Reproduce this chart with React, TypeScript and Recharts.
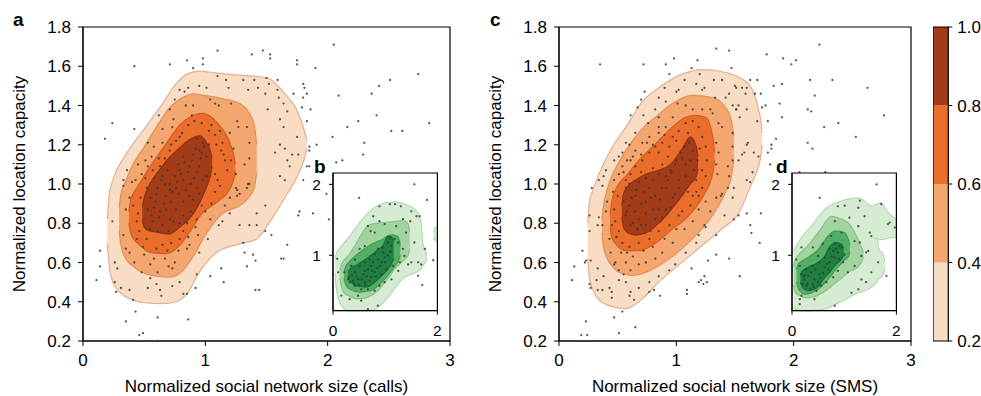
import React from "react";
import { ComposedChart, Area, Scatter, XAxis, YAxis, ReferenceArea, CartesianGrid } from "recharts";

type Row = [number, number, number];

const MAIN_X_TICKS = [0, 1, 2, 3];
const MAIN_Y_TICKS = [0.2, 0.4, 0.6, 0.8, 1.0, 1.2, 1.4, 1.6, 1.8];
const INSET_X_TICKS = [0, 2];
const INSET_Y_TICKS = [1, 2];
const LEVELS = [0.2, 0.4, 0.6, 0.8, 1.0];

const ORANGES = ["#f9dcc4", "#f3a66e", "#eb6d2b", "#a33b17"];
const ORANGE_EDGES = ["#dfb095", "#e38f58", "#d55d20", "#8c3214"];
const GREENS = ["#d5ecd2", "#a2d49f", "#52ae65", "#1d7f40"];
const GREEN_EDGES = ["#b1d8ad", "#84c283", "#3f9a54", "#166a34"];

// density contours: [x, lower y, upper y]
const CALLS_L1: Row[] = [[0.2, 0.7, 0.82], [0.215, 0.58, 0.95], [0.25, 0.49, 1.03], [0.35, 0.425, 1.15], [0.5, 0.395, 1.28], [0.65, 0.39, 1.41], [0.76, 0.4, 1.51], [0.85, 0.44, 1.56], [0.95, 0.55, 1.575], [1.1, 0.655, 1.565], [1.28, 0.695, 1.555], [1.42, 0.72, 1.548], [1.51, 0.79, 1.54], [1.65, 0.93, 1.46], [1.76, 1.05, 1.36], [1.81, 1.13, 1.27], [1.83, 1.18, 1.22]];
const CALLS_L2: Row[] = [[0.295, 0.76, 0.88], [0.31, 0.69, 0.95], [0.34, 0.63, 1.0], [0.4, 0.585, 1.09], [0.5, 0.545, 1.19], [0.6, 0.53, 1.29], [0.71, 0.525, 1.39], [0.8, 0.55, 1.435], [0.9, 0.63, 1.46], [1.0, 0.74, 1.45], [1.14, 0.85, 1.435], [1.28, 0.89, 1.41], [1.36, 0.935, 1.36], [1.4, 0.98, 1.3], [1.42, 1.06, 1.2]];
const CALLS_L3: Row[] = [[0.375, 0.8, 0.86], [0.39, 0.75, 0.92], [0.42, 0.715, 0.96], [0.46, 0.69, 1.0], [0.55, 0.652, 1.09], [0.68, 0.645, 1.205], [0.79, 0.687, 1.3], [0.87, 0.755, 1.34], [0.98, 0.855, 1.36], [1.1, 0.91, 1.31], [1.2, 0.975, 1.21], [1.235, 1.03, 1.14], [1.245, 1.07, 1.1]];
const CALLS_L4: Row[] = [[0.485, 0.82, 0.88], [0.5, 0.78, 0.93], [0.53, 0.765, 0.98], [0.6, 0.755, 1.05], [0.7, 0.745, 1.13], [0.8, 0.785, 1.19], [0.87, 0.823, 1.225], [0.95, 0.9, 1.245], [1.0, 0.97, 1.22], [1.04, 1.04, 1.17], [1.055, 1.09, 1.13]];

const SMS_L1: Row[] = [[0.245, 0.62, 0.8], [0.26, 0.52, 0.91], [0.29, 0.46, 0.97], [0.34, 0.41, 1.05], [0.455, 0.375, 1.19], [0.57, 0.365, 1.29], [0.71, 0.415, 1.42], [0.85, 0.5, 1.49], [1.05, 0.602, 1.56], [1.22, 0.687, 1.583], [1.39, 0.772, 1.572], [1.53, 0.85, 1.545], [1.64, 1.0, 1.49], [1.7, 1.09, 1.38], [1.725, 1.16, 1.3], [1.73, 1.2, 1.26]];
const SMS_L2: Row[] = [[0.365, 0.75, 0.82], [0.38, 0.68, 0.89], [0.41, 0.62, 0.97], [0.45, 0.585, 1.04], [0.51, 0.55, 1.11], [0.625, 0.534, 1.22], [0.74, 0.55, 1.3], [0.824, 0.575, 1.341], [0.966, 0.63, 1.41], [1.136, 0.72, 1.452], [1.307, 0.84, 1.44], [1.42, 0.96, 1.39], [1.47, 1.04, 1.32], [1.49, 1.12, 1.24]];
const SMS_L3: Row[] = [[0.435, 0.78, 0.84], [0.45, 0.73, 0.91], [0.49, 0.69, 0.98], [0.57, 0.66, 1.04], [0.68, 0.66, 1.12], [0.824, 0.7, 1.205], [0.966, 0.77, 1.29], [1.08, 0.823, 1.34], [1.165, 0.88, 1.35], [1.25, 0.96, 1.34], [1.3, 1.03, 1.27], [1.32, 1.09, 1.2], [1.325, 1.12, 1.16]];
const SMS_L4: Row[] = [[0.535, 0.83, 0.89], [0.55, 0.78, 0.95], [0.59, 0.75, 0.99], [0.653, 0.74, 1.02], [0.74, 0.75, 1.05], [0.85, 0.8, 1.07], [0.95, 0.865, 1.1], [1.05, 0.942, 1.18], [1.12, 1.0, 1.24], [1.17, 1.04, 1.19], [1.185, 1.08, 1.14]];

const B_L1: Row[] = [[0.04, 0.75, 0.95], [0.06, 0.55, 1.02], [0.15, 0.3, 1.12], [0.3, 0.22, 1.25], [0.5, 0.22, 1.45], [0.7, 0.22, 1.62], [0.85, 0.26, 1.7], [1.0, 0.36, 1.74], [1.2, 0.55, 1.755], [1.35, 0.68, 1.73], [1.5, 0.73, 1.68], [1.62, 0.77, 1.6], [1.69, 0.81, 1.45], [1.72, 0.85, 1.18], [1.77, 0.9, 1.06], [1.8, 0.96, 1.0]];
const B_SPOT: Row[] = [[1.93, 1.26, 1.32], [1.95, 1.21, 1.38], [2.0, 1.2, 1.4]];
const B_L2: Row[] = [[0.13, 0.68, 0.78], [0.16, 0.56, 0.87], [0.2, 0.48, 0.92], [0.32, 0.42, 1.02], [0.5, 0.385, 1.24], [0.67, 0.41, 1.42], [0.83, 0.48, 1.45], [1.02, 0.64, 1.465], [1.21, 0.83, 1.48], [1.34, 0.92, 1.49], [1.44, 1.0, 1.44], [1.47, 1.08, 1.34]];
const B_L3: Row[] = [[0.21, 0.68, 0.76], [0.24, 0.59, 0.84], [0.3, 0.53, 0.9], [0.51, 0.48, 1.04], [0.72, 0.5, 1.15], [0.96, 0.64, 1.23], [1.1, 0.76, 1.29], [1.22, 0.88, 1.27], [1.27, 0.95, 1.22], [1.29, 1.0, 1.14]];
const B_L4: Row[] = [[0.29, 0.69, 0.75], [0.32, 0.64, 0.8], [0.45, 0.57, 0.86], [0.64, 0.55, 0.95], [0.83, 0.64, 1.06], [0.96, 0.73, 1.14], [1.05, 0.8, 1.27], [1.12, 0.88, 1.26], [1.16, 0.95, 1.2]];

const D_L1: Row[] = [[0.03, 0.25, 1.05], [0.18, 0.22, 1.25], [0.37, 0.22, 1.41], [0.63, 0.24, 1.65], [0.95, 0.35, 1.765], [1.27, 0.47, 1.81], [1.46, 0.52, 1.72], [1.6, 0.6, 1.65], [1.66, 0.66, 1.1], [1.75, 0.74, 1.0], [1.78, 0.8, 0.9]];
const D_EAR: Row[] = [[1.55, 1.25, 1.7], [1.71, 1.22, 1.74], [1.84, 1.24, 1.6], [2.0, 1.25, 1.51]];
const D_L2: Row[] = [[0.03, 0.58, 0.84], [0.05, 0.5, 0.91], [0.12, 0.44, 1.0], [0.31, 0.4, 1.14], [0.56, 0.46, 1.38], [0.75, 0.56, 1.55], [0.95, 0.68, 1.51], [1.1, 0.77, 1.44], [1.27, 0.84, 1.22], [1.34, 0.92, 1.1], [1.37, 0.97, 1.04]];
const D_L3: Row[] = [[0.09, 0.62, 0.8], [0.12, 0.53, 0.88], [0.24, 0.45, 0.94], [0.5, 0.52, 1.08], [0.69, 0.66, 1.27], [0.82, 0.78, 1.34], [1.0, 0.93, 1.32], [1.08, 0.98, 1.22], [1.11, 1.04, 1.14]];
const D_L4: Row[] = [[0.16, 0.62, 0.72], [0.19, 0.56, 0.77], [0.31, 0.5, 0.83], [0.5, 0.56, 0.9], [0.62, 0.68, 0.98], [0.72, 0.76, 1.12], [0.85, 0.88, 1.18], [0.95, 0.95, 1.155], [0.99, 1.0, 1.1]];

// individual users: [x, y]
const DOTS_CALLS = [
  [1.1, 1.68], [1.38, 1.66], [1.47, 1.68], [0.42, 1.6], [0.71, 1.61], [0.85, 1.63], [0.98, 1.64], [0.98, 1.61], [0.9, 1.59], [0.24, 1.31], [0.18, 1.23], [0.42, 1.28],
  [1.1, 1.55], [1.17, 1.53], [1.19, 1.49], [1.31, 1.53], [1.4, 1.53], [1.35, 1.48], [1.43, 1.49], [1.5, 1.54], [0.95, 1.5], [1.01, 1.49], [0.79, 1.48], [0.83, 1.47], [0.86, 1.49], [0.75, 1.43], [0.71, 1.38], [0.62, 1.35], [0.74, 1.33], [0.65, 1.28], [0.53, 1.21], [0.51, 1.12], [0.45, 1.1], [0.36, 1.07], [0.4, 1.01], [0.33, 1.02],
  [0.84, 1.4], [0.9, 1.4], [0.89, 1.35], [1.04, 1.43], [1.08, 1.41], [1.11, 1.4], [1.21, 1.41], [1.26, 1.32], [1.27, 1.29], [1.34, 1.29], [1.36, 1.21], [1.36, 1.13], [1.32, 1.1], [1.35, 1.0], [0.73, 1.29], [0.65, 1.21], [0.58, 1.19], [0.56, 1.14], [0.53, 1.09], [0.51, 1.03], [0.43, 1.02], [0.48, 1.05], [1.2, 1.26], [1.23, 1.18], [1.21, 1.12], [1.25, 1.05],
  [0.91, 1.32], [0.97, 1.31], [1.05, 1.3], [1.12, 1.27], [1.08, 1.25], [1.14, 1.21], [1.13, 1.17], [1.16, 1.12], [1.18, 1.07], [0.81, 1.26], [0.76, 1.22], [0.71, 1.17], [0.67, 1.13], [0.63, 1.09], [0.65, 1.04], [0.58, 1.03], [1.08, 1.05],
  [0.93, 1.23], [0.98, 1.21], [0.95, 1.17], [1.01, 1.14], [0.9, 1.15], [0.83, 1.11], [0.79, 1.07], [0.87, 1.09], [0.95, 1.09], [1.01, 1.04], [0.91, 1.03], [0.82, 1.02], [0.75, 1.04], [0.71, 1.0], [0.67, 1.0], [0.82, 1.14], [0.78, 1.1],
  [0.56, 0.84], [0.6, 0.95], [0.64, 1.02], [0.69, 1.07], [0.73, 0.96], [0.78, 0.95], [0.8, 1.05], [0.86, 1.06], [0.89, 1.12], [0.92, 1.18], [0.96, 1.13], [0.99, 1.19], [0.7, 0.76], [0.74, 0.81], [0.79, 0.8], [0.85, 0.8], [0.88, 0.86], [0.9, 0.92], [0.95, 0.95], [0.98, 1.02], [0.62, 0.83], [0.58, 0.88], [0.66, 0.9], [0.71, 0.97], [0.77, 1.01], [0.84, 0.97], [0.88, 1.0], [0.93, 1.06], [0.97, 1.16], [1.03, 1.2],
  [0.45, 0.85], [0.47, 0.93], [0.44, 0.72], [0.5, 0.64], [0.58, 0.62], [0.69, 0.66], [0.78, 0.66], [0.86, 0.73], [0.92, 0.78], [1.0, 0.86], [1.05, 0.9], [1.1, 1.02], [1.15, 1.15], [1.09, 1.2], [1.03, 1.27], [0.86, 1.3], [0.79, 1.24], [0.72, 1.2], [0.62, 1.13], [0.57, 1.07],
  [2.05, 1.71], [1.53, 1.66], [1.53, 1.64], [1.75, 1.63], [1.75, 1.61], [1.9, 1.59], [2.74, 1.56], [2.51, 1.53], [2.42, 1.5], [2.36, 1.46], [2.09, 1.45], [1.59, 1.53], [1.8, 1.51], [1.81, 1.49], [1.83, 1.46], [1.72, 1.46], [1.8, 1.44], [1.79, 1.39], [1.86, 1.38], [1.83, 1.32], [2.4, 1.35], [2.25, 1.32], [2.16, 1.29], [2.83, 1.31], [2.52, 1.27], [2.61, 1.27], [2.04, 1.24], [2.3, 1.21], [2.29, 1.15], [2.12, 1.12], [2.07, 1.11], [1.91, 1.2], [1.85, 1.19], [1.85, 1.17], [1.83, 1.09], [1.85, 1.09], [1.8, 1.02],
  [1.49, 1.46], [1.52, 1.51], [1.59, 1.48], [1.6, 1.44], [1.64, 1.41], [1.51, 1.38], [1.61, 1.33], [1.67, 1.37], [1.64, 1.29], [1.75, 1.24], [1.61, 1.2], [1.57, 1.16], [1.65, 1.18], [1.71, 1.15], [1.76, 1.15], [1.67, 1.12], [1.69, 1.09], [1.61, 1.04], [1.65, 1.02],
  [0.14, 0.66], [0.14, 0.58], [0.11, 0.51], [0.43, 0.35], [0.35, 0.3], [0.61, 0.32], [0.86, 0.31], [0.46, 0.23], [0.49, 0.24], [0.61, 0.2], [1.04, 0.53], [1.13, 0.57], [1.15, 0.5], [0.92, 0.47], [1.32, 0.65], [1.39, 0.64], [1.41, 0.61], [1.34, 0.58], [1.41, 0.46], [1.44, 0.46], [1.49, 0.76],
  [0.24, 0.81], [0.26, 0.6], [0.28, 0.57], [0.26, 0.5], [0.27, 0.45], [0.31, 0.47], [0.38, 0.46], [0.41, 0.41], [0.53, 0.47], [0.63, 0.46], [0.64, 0.43], [0.79, 0.5], [0.82, 0.44], [0.85, 0.44], [0.73, 0.48], [0.6, 0.49], [0.55, 0.52], [0.93, 0.54], [0.95, 0.65], [1.02, 0.72], [1.14, 0.81], [1.2, 0.85], [1.28, 0.79], [1.36, 0.79], [1.42, 0.79], [1.31, 0.7], [1.42, 0.85], [1.49, 0.89], [1.25, 0.98], [1.28, 0.95], [1.34, 0.98], [1.36, 1.0],
  [0.33, 0.99], [0.38, 0.93], [0.35, 0.87], [0.33, 0.74], [0.35, 0.67], [0.38, 0.65], [0.42, 0.6], [0.48, 0.55], [0.55, 0.59], [0.61, 0.55], [0.7, 0.58], [0.73, 0.57], [0.75, 0.6], [0.67, 0.62], [0.85, 0.67], [0.87, 0.69], [0.94, 0.74], [1.04, 0.82], [1.11, 0.79], [1.16, 0.89], [1.2, 0.93], [1.26, 0.94], [1.26, 0.97],
  [0.41, 0.89], [0.44, 0.81], [0.46, 0.76], [0.52, 0.72], [0.6, 0.67], [0.65, 0.69], [0.72, 0.7], [0.79, 0.72], [0.82, 0.76], [0.93, 0.82], [0.97, 0.89], [1.08, 0.96], [1.12, 0.99], [0.49, 0.68],
  [0.52, 0.98], [0.55, 0.93], [0.53, 0.87], [0.59, 0.91], [0.63, 0.86], [0.57, 0.81], [0.65, 0.79], [0.71, 0.82], [0.76, 0.87], [0.82, 0.91], [0.87, 0.94], [0.93, 0.98], [0.68, 0.94], [0.76, 0.98], [0.82, 0.84], [0.61, 0.98], [0.72, 0.91], [0.68, 0.87], [0.55, 0.77], [0.61, 0.76],
  [1.99, 0.95], [1.76, 0.84], [1.77, 0.86], [1.88, 0.85], [2.01, 0.82], [1.67, 0.69], [1.62, 0.62], [1.64, 0.62], [1.54, 0.74],
];

const DOTS_SMS = [
  [0.35, 1.61], [0.72, 1.61], [0.91, 1.61], [0.98, 1.64], [1.18, 1.63], [1.34, 1.69], [1.45, 1.68], [1.13, 1.59], [0.94, 1.56], [1.47, 1.59], [0.73, 1.47], [0.7, 1.43], [0.67, 1.39], [0.61, 1.35],
  [1.07, 1.53], [1.2, 1.56], [1.32, 1.53], [1.39, 1.53], [1.5, 1.5], [1.17, 1.51], [1.24, 1.49], [1.22, 1.48], [1.02, 1.48], [1.0, 1.47], [0.9, 1.49], [0.85, 1.44], [0.91, 1.42], [1.01, 1.41], [1.08, 1.4], [1.33, 1.44], [1.42, 1.44], [1.45, 1.46], [1.48, 1.4], [1.51, 1.38], [0.82, 1.38], [0.85, 1.34], [0.72, 1.35], [0.76, 1.31], [0.65, 1.26], [0.6, 1.2], [0.57, 1.21], [0.54, 1.16], [0.51, 1.14], [0.47, 1.12], [0.4, 1.07], [0.38, 1.04], [0.34, 1.02], [0.85, 1.29], [1.48, 1.26], [1.48, 1.19], [1.48, 1.12], [1.44, 1.09], [1.45, 1.04],
  [1.14, 1.38], [1.22, 1.38], [1.29, 1.38], [1.31, 1.36], [1.36, 1.31], [1.39, 1.29], [1.34, 1.21], [1.36, 1.16], [1.34, 1.1], [1.35, 1.05], [0.97, 1.34], [0.91, 1.29], [0.85, 1.26], [0.77, 1.24], [0.71, 1.21], [0.65, 1.17], [0.61, 1.12], [0.58, 1.12], [0.54, 1.09], [0.51, 1.05], [0.47, 1.02], [0.75, 1.21],
  [1.14, 1.32], [1.19, 1.29], [1.22, 1.24], [1.25, 1.19], [1.26, 1.12], [1.22, 1.07], [1.25, 1.04], [1.08, 1.31], [1.02, 1.27], [0.97, 1.24], [0.88, 1.21], [0.82, 1.19], [0.77, 1.16], [0.71, 1.12], [0.65, 1.09], [0.61, 1.05], [0.57, 1.02], [0.94, 1.19], [0.85, 1.16],
  [1.11, 1.21], [1.14, 1.17], [1.12, 1.12], [1.15, 1.07], [1.08, 1.04], [1.04, 1.16], [0.99, 1.1], [0.95, 1.07], [0.91, 1.04], [0.85, 1.05], [0.8, 1.02], [0.74, 1.03], [0.68, 1.01], [1.02, 1.02], [1.08, 1.1],
  [0.58, 0.86], [0.62, 0.93], [0.66, 0.97], [0.7, 0.9], [0.72, 0.96], [0.78, 0.93], [0.8, 0.87], [0.86, 0.92], [0.88, 0.98], [0.93, 1.02], [0.96, 1.06], [1.0, 1.12], [1.05, 1.13], [1.07, 1.19], [0.63, 0.8], [0.7, 0.79], [0.78, 0.76], [0.88, 0.83], [0.95, 0.88], [0.99, 0.95], [0.6, 1.0], [0.7, 1.06], [0.8, 1.08], [0.88, 1.1], [0.93, 1.14],
  [0.49, 0.73], [0.53, 0.65], [0.63, 0.63], [0.72, 0.66], [0.8, 0.68], [0.9, 0.72], [1.0, 0.77], [1.05, 0.86], [1.1, 0.96], [1.17, 1.02], [1.18, 1.12], [1.2, 1.18], [1.1, 1.26], [1.0, 1.22], [0.9, 1.25], [0.8, 1.2], [0.7, 1.15], [0.63, 1.14], [0.55, 1.06], [0.45, 0.79],
  [2.22, 1.71], [1.77, 1.66], [1.91, 1.64], [1.98, 1.61], [2.02, 1.63], [2.14, 1.53], [2.33, 1.53], [2.63, 1.49], [1.83, 1.5], [1.9, 1.51], [2.18, 1.45], [1.88, 1.41], [2.12, 1.38], [2.15, 1.37], [2.77, 1.35], [1.78, 1.32], [1.9, 1.34], [2.26, 1.29], [2.38, 1.31], [2.53, 1.24], [1.85, 1.23], [2.12, 1.21], [2.16, 1.18], [1.81, 1.2], [1.81, 1.18], [1.78, 1.16], [1.8, 1.1], [2.05, 1.06], [2.27, 1.06], [1.72, 1.46], [1.76, 1.4], [1.73, 1.39],
  [1.63, 1.53], [1.69, 1.53], [1.56, 1.49], [1.51, 1.49], [1.6, 1.49], [1.67, 1.46], [1.59, 1.46], [1.53, 1.4], [1.51, 1.38], [1.6, 1.38], [1.54, 1.34], [1.69, 1.32], [1.61, 1.21], [1.6, 1.2], [1.58, 1.16], [1.56, 1.15], [1.66, 1.16], [1.7, 1.14], [1.53, 1.12], [1.65, 1.06], [1.6, 1.02], [1.63, 1.01],
  [0.2, 0.66], [0.13, 0.58], [0.11, 0.51], [0.22, 0.6], [0.23, 0.61], [0.23, 0.3], [0.19, 0.23], [0.24, 0.23], [0.47, 0.32], [0.54, 0.35], [0.65, 0.27], [0.51, 0.24], [0.86, 0.43], [1.09, 0.46], [1.09, 0.44], [1.21, 0.51], [1.19, 0.5], [1.24, 0.53], [1.26, 0.5], [1.23, 0.49], [1.13, 0.57], [1.27, 0.61], [1.34, 0.64], [1.45, 0.62], [1.49, 0.82], [1.53, 0.84],
  [0.26, 0.49], [0.27, 0.47], [0.32, 0.51], [0.33, 0.46], [0.37, 0.46], [0.43, 0.47], [0.45, 0.42], [0.45, 0.45], [0.6, 0.43], [0.64, 0.41], [0.68, 0.47], [0.77, 0.5], [0.81, 0.46], [0.85, 0.53], [0.94, 0.56], [0.99, 0.59], [1.08, 0.65], [1.17, 0.7], [1.19, 0.74], [1.24, 0.79], [1.25, 0.78], [1.34, 0.74], [1.41, 0.84], [1.48, 0.93], [1.49, 0.98], [1.44, 0.98], [1.39, 0.95], [1.38, 0.94], [1.34, 0.93], [1.29, 0.86], [0.26, 0.84], [0.26, 0.76], [0.27, 0.61], [0.34, 0.83], [0.33, 0.79], [0.33, 0.57], [0.38, 0.53], [0.51, 0.51], [0.57, 0.5], [0.55, 0.54], [0.61, 0.45], [0.77, 0.45], [0.28, 0.98], [0.37, 0.99],
  [0.4, 0.86], [0.37, 0.79], [0.43, 0.72], [0.44, 0.65], [0.47, 0.59], [0.51, 0.56], [0.57, 0.6], [0.61, 0.56], [0.68, 0.59], [0.74, 0.6], [0.82, 0.62], [0.88, 0.65], [0.97, 0.7], [1.07, 0.77], [1.14, 0.81], [1.19, 0.87], [1.25, 0.91], [1.19, 0.94], [1.22, 0.98], [0.46, 0.96], [0.41, 0.91], [0.48, 0.6], [0.58, 0.65],
  [0.47, 0.87], [0.48, 0.81], [0.51, 0.76], [0.54, 0.7], [0.6, 0.68], [0.68, 0.7], [0.77, 0.72], [0.85, 0.76], [0.94, 0.79], [1.02, 0.84], [1.12, 0.89], [1.17, 0.96], [0.5, 0.94], [1.14, 0.94],
  [0.57, 0.98], [0.55, 0.91], [0.57, 0.84], [0.61, 0.79], [0.67, 0.77], [0.74, 0.79], [0.82, 0.82], [0.91, 0.87], [0.97, 0.93], [1.02, 0.98], [0.65, 0.94], [0.74, 0.91], [0.82, 0.94], [0.65, 0.86], [0.74, 0.85], [0.6, 0.89], [0.68, 0.82], [0.85, 0.87], [0.91, 0.98], [0.77, 0.98],
  [1.6, 0.85], [1.63, 0.79], [1.64, 0.75], [1.72, 0.85], [1.71, 0.7], [1.54, 0.53],
];

const DOTS_B = [
  [0.5, 1.81], [1.56, 2.0], [1.8, 1.78], [0.89, 1.69], [1.09, 1.72], [1.19, 1.72], [1.3, 1.69], [1.5, 1.62], [1.6, 1.55], [1.66, 1.55], [1.34, 1.51], [1.48, 1.48], [0.77, 1.55], [0.67, 1.41], [0.72, 1.34], [0.8, 1.32], [0.61, 1.13], [0.51, 1.09], [0.42, 0.94], [0.35, 0.85], [0.22, 0.76], [0.29, 0.66], [0.32, 0.62], [0.42, 0.57], [0.54, 0.52], [0.67, 0.52], [0.8, 0.5], [0.89, 0.57], [0.99, 0.62], [1.12, 0.66], [1.25, 0.78], [1.44, 0.87], [1.5, 0.9], [1.63, 0.9], [1.69, 0.87], [1.71, 0.58], [1.92, 0.93], [0.08, 0.95], [0.1, 0.76], [0.16, 0.43], [0.32, 0.38], [0.54, 0.36], [0.67, 0.24], [0.86, 0.29], [0.48, 0.43],
  [0.61, 0.78], [0.73, 0.85], [0.86, 0.94], [0.96, 1.04], [1.05, 1.18], [1.09, 1.25], [1.12, 1.13], [1.18, 1.23], [1.25, 1.18], [1.34, 1.09], [1.37, 0.99], [1.28, 0.9], [1.15, 0.85], [1.02, 0.8], [0.93, 0.73], [0.73, 0.69], [0.61, 0.62], [0.48, 0.66], [0.42, 0.76], [0.51, 0.85], [0.61, 0.9], [0.7, 0.94], [0.8, 1.01], [0.86, 1.09], [0.96, 1.11], [0.67, 0.8], [0.8, 0.76], [0.93, 0.9], [0.99, 0.97], [0.77, 0.9], [0.58, 0.73], [0.38, 0.64], [1.63, 0.71], [1.76, 1.09], [1.56, 1.18], [1.4, 1.32], [1.21, 1.41], [0.99, 1.44], [0.89, 1.48],
  [0.45, 0.7], [0.55, 0.66], [0.65, 0.7], [0.75, 0.78], [0.85, 0.82], [0.4, 0.6], [0.5, 0.58], [0.62, 0.58], [0.7, 0.64], [0.82, 0.7], [0.9, 0.85], [1.0, 0.9], [1.05, 1.0], [1.1, 1.05], [0.36, 0.72], [0.3, 0.7],
];

const DOTS_D = [
  [0.53, 1.81], [1.62, 2.0], [0.88, 1.69], [1.01, 1.7], [1.27, 1.67], [1.3, 1.77], [1.71, 1.72], [1.84, 1.44], [1.87, 1.46], [1.97, 1.39], [1.49, 1.32], [1.39, 1.55], [1.1, 1.53], [0.82, 1.48], [0.75, 1.27], [0.59, 1.16], [0.4, 1.11], [0.18, 1.11], [0.08, 0.94], [0.15, 0.85], [0.18, 0.73], [0.24, 0.66], [0.21, 0.59], [0.34, 0.52], [0.47, 0.5], [0.56, 0.57], [0.66, 0.62], [0.79, 0.69], [0.88, 0.78], [0.98, 0.9], [1.01, 1.01], [0.95, 1.11], [0.82, 1.16], [0.72, 1.09], [0.63, 0.97], [0.53, 0.9], [0.4, 0.85], [0.27, 0.8], [0.31, 0.71], [0.43, 0.66], [0.53, 0.73], [0.63, 0.83], [0.72, 0.9], [0.82, 0.97], [0.88, 1.04], [0.79, 1.06], [0.91, 1.13], [0.37, 0.76], [0.5, 0.62], [0.4, 0.59],
  [0.18, 0.43], [0.15, 0.38], [0.43, 0.38], [0.82, 0.29], [1.14, 0.47], [1.27, 0.52], [1.33, 0.66], [1.42, 0.62], [1.52, 0.76], [1.65, 0.9], [1.46, 1.06], [1.42, 1.04], [1.33, 0.99], [1.2, 0.85], [1.07, 0.76], [1.2, 1.2], [1.3, 1.18], [1.81, 0.71], [1.52, 1.27], [1.27, 1.41], [0.95, 1.32], [0.5, 0.99], [0.15, 0.31],
  [0.25, 0.72], [0.3, 0.6], [0.42, 0.55], [0.28, 0.57], [0.22, 0.7], [0.45, 0.8], [0.6, 0.75], [0.67, 0.88], [0.76, 0.98], [0.85, 1.09], [0.9, 0.95], [0.7, 0.8], [0.55, 0.68],
];

const LEGEND_BANDS: Row[][] = LEVELS.slice(0, -1).map((lo, i) => [[0, lo, LEVELS[i + 1]], [1, lo, LEVELS[i + 1]]]);

const toArea = (rows: Row[]) => rows.map(([x, lo, hi]) => ({ x, v: [lo, hi] }));
const toDots = (pts: number[][]) => pts.map(([x, y]) => ({ x, y }));

const Dot = (p: any) => <circle cx={p.cx} cy={p.cy} r={1.15} fill="#3a3a3a" fillOpacity={0.85} />;

const FONT = "'Liberation Sans', Arial, Helvetica, sans-serif";

function MainPanel({ left, width, xLabel, levels, dots }: { left: number; width: number; xLabel: string; levels: Row[][]; dots: number[][] }) {
  return (
    <div style={{ position: "absolute", left, top: 0 }}>
      <ComposedChart width={width} height={396} margin={{ top: 27, right: 10, bottom: 0, left: 0 }}>
        <XAxis
          type="number"
          dataKey="x"
          domain={[0, 3]}
          ticks={MAIN_X_TICKS}
          height={55}
          stroke="#000"
          tickSize={5}
          tickMargin={8}
          tick={{ fill: "#000", fontSize: 17 }}
          label={{ value: xLabel, position: "insideBottom", offset: 4, fill: "#000", fontSize: 17 }}
        />
        <YAxis
          type="number"
          dataKey="y"
          domain={[0.2, 1.8]}
          ticks={MAIN_Y_TICKS}
          width={83}
          stroke="#000"
          tickSize={5}
          tickMargin={7}
          tick={{ fill: "#000", fontSize: 17 }}
          tickFormatter={(v: number) => v.toFixed(1)}
          label={{ value: "Normalized location capacity", angle: -90, position: "insideLeft", offset: 18.5, fill: "#000", fontSize: 17, style: { textAnchor: "middle" } }}
        />
        {levels.map((rows, i) => (
          <Area
            key={i}
            data={toArea(rows)}
            dataKey="v"
            type="monotone"
            fill={ORANGES[i]}
            fillOpacity={1}
            stroke={ORANGE_EDGES[i]}
            strokeWidth={1.2}
            dot={false}
            activeDot={false}
            isAnimationActive={false}
          />
        ))}
        <Scatter data={toDots(dots)} shape={Dot} isAnimationActive={false} />
        <ReferenceArea x1={0} x2={3} y1={0.2} y2={1.8} fill="none" stroke="#000" strokeWidth={1.2} />
      </ComposedChart>
    </div>
  );
}

function InsetPanel({ left, levels, dots }: { left: number; levels: { rows: Row[]; level: number }[]; dots: number[][] }) {
  return (
    <div style={{ position: "absolute", left, top: 167.7 }}>
      <ComposedChart width={142.4} height={172.6} margin={{ top: 5, right: 8, bottom: 0, left: 0 }}>
        <CartesianGrid fill="#fff" horizontal={false} vertical={false} />
        <XAxis
          type="number"
          dataKey="x"
          domain={[0, 2]}
          ticks={INSET_X_TICKS}
          height={30}
          stroke="#000"
          tickSize={4}
          tickMargin={10}
          tick={{ fill: "#000", fontSize: 15.5 }}
        />
        <YAxis
          type="number"
          dataKey="y"
          domain={[0.22, 2.16]}
          ticks={INSET_Y_TICKS}
          width={30}
          stroke="#000"
          tickSize={4}
          tickMargin={8}
          tick={{ fill: "#000", fontSize: 15.5 }}
        />
        {levels.map(({ rows, level }, i) => (
          <Area
            key={i}
            data={toArea(rows)}
            dataKey="v"
            type="monotone"
            fill={GREENS[level]}
            fillOpacity={1}
            stroke={GREEN_EDGES[level]}
            strokeWidth={1.1}
            dot={false}
            activeDot={false}
            isAnimationActive={false}
          />
        ))}
        <Scatter data={toDots(dots)} shape={Dot} isAnimationActive={false} />
        <ReferenceArea x1={0} x2={2} y1={0.22} y2={2.16} fill="none" stroke="#000" strokeWidth={1.2} />
      </ComposedChart>
    </div>
  );
}

function ColorBar() {
  return (
    <div style={{ position: "absolute", left: 932.7, top: 0 }}>
      <ComposedChart width={55.3} height={396} margin={{ top: 27, right: 0, bottom: 55, left: 0 }}>
        <XAxis type="number" dataKey="x" domain={[0, 1]} hide />
        <YAxis
          type="number"
          orientation="right"
          domain={[0.2, 1.0]}
          ticks={LEVELS}
          width={40}
          axisLine={false}
          stroke="#000"
          tickSize={4}
          tickMargin={5}
          tick={{ fill: "#000", fontSize: 17 }}
          tickFormatter={(v: number) => v.toFixed(1)}
        />
        {LEGEND_BANDS.map((rows, i) => (
          <Area key={i} data={toArea(rows)} dataKey="v" type="linear" fill={ORANGES[i]} fillOpacity={1} stroke="none" dot={false} activeDot={false} isAnimationActive={false} />
        ))}
        <ReferenceArea x1={0} x2={1} y1={0.2} y2={1.0} fill="none" stroke="#000" strokeWidth={1.2} />
      </ComposedChart>
    </div>
  );
}

export default function App() {
  return (
    <div style={{ position: "absolute", left: 0, top: 0, width: 981, height: 396, background: "#fff", fontFamily: FONT, overflow: "hidden" }}>
      <MainPanel left={0} width={460} xLabel="Normalized social network size (calls)" levels={[CALLS_L1, CALLS_L2, CALLS_L3, CALLS_L4]} dots={DOTS_CALLS} />
      <MainPanel left={476} width={445} xLabel="Normalized social network size (SMS)" levels={[SMS_L1, SMS_L2, SMS_L3, SMS_L4]} dots={DOTS_SMS} />
      <InsetPanel
        left={303.3}
        levels={[{ rows: B_L1, level: 0 }, { rows: B_SPOT, level: 0 }, { rows: B_L2, level: 1 }, { rows: B_L3, level: 2 }, { rows: B_L4, level: 3 }]}
        dots={DOTS_B}
      />
      <InsetPanel
        left={762.3}
        levels={[{ rows: D_L1, level: 0 }, { rows: D_EAR, level: 0 }, { rows: D_L2, level: 1 }, { rows: D_L3, level: 2 }, { rows: D_L4, level: 3 }]}
        dots={DOTS_D}
      />
      <ColorBar />
      <svg width={981} height={396} style={{ position: "absolute", left: 0, top: 0, pointerEvents: "none" }}>
        <g fontWeight="bold" fontSize={19} fill="#000">
          <text x={13} y={26}>a</text>
          <text x={314} y={173}>b</text>
          <text x={490} y={26}>c</text>
          <text x={776} y={173}>d</text>
        </g>
      </svg>
    </div>
  );
}
